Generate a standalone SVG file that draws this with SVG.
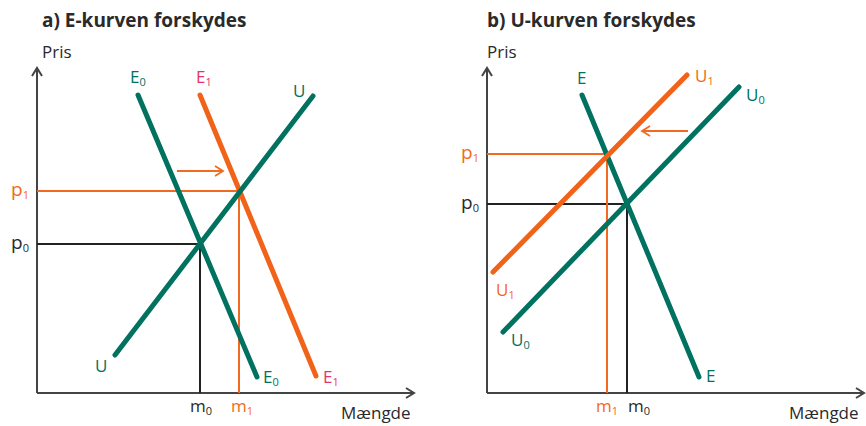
<svg xmlns="http://www.w3.org/2000/svg" width="866" height="426" viewBox="0 0 866 426">
<defs>
<style>
text{font-family:"Open Sans","Liberation Sans",sans-serif;font-size:17px}
.title{font-weight:bold;font-size:19px;fill:#2a2a2a}
.blk{fill:#2a2a2a}
.teal{fill:#00725f}
.org{fill:#f26a21}
.pink{fill:#e6336b}
.sub{font-size:11px}
.big{font-size:19px}
.curveT{stroke:#00725f;stroke-width:5;stroke-linecap:round;fill:none}
.curveO{stroke:#f2631a;stroke-width:5;stroke-linecap:round;fill:none}
.axis{stroke:#444;stroke-width:2;fill:none}
.gk{stroke:#222;stroke-width:2;fill:none}
.go{stroke:#f26a21;stroke-width:2;fill:none}
</style>
<marker id="ah" markerWidth="12" markerHeight="12" refX="10" refY="6" orient="auto" markerUnits="userSpaceOnUse">
<path d="M2,1 L10,6 L2,11" fill="none" stroke="#444" stroke-width="2"/>
</marker>
<marker id="aho" markerWidth="12" markerHeight="12" refX="10" refY="6" orient="auto" markerUnits="userSpaceOnUse">
<path d="M2,1 L10,6 L2,11" fill="none" stroke="#f26a21" stroke-width="1.8"/>
</marker>
</defs>
<rect width="866" height="426" fill="#fff"/>

<g id="panel-a">
<text class="title" x="42" y="27">a) E-kurven forskydes</text>
<text class="blk" x="42" y="58">Pris</text>
<g id="axes-a">
<line class="axis" x1="37" y1="393" x2="37" y2="68" marker-end="url(#ah)"/>
<line class="axis" x1="37" y1="393" x2="414" y2="393" marker-end="url(#ah)"/>
</g>
<g id="guides-a">
<polyline class="gk" points="37,244 200,244 200,393"/>
<polyline class="go" points="37,191 239,191 239,393"/>
</g>
<g id="E0-a"><line class="curveT" x1="138" y1="95" x2="257" y2="377"/>
<text class="teal" x="130" y="83">E<tspan class="sub" dy="3">0</tspan></text>
<text class="teal" x="263" y="383">E<tspan class="sub" dy="3">0</tspan></text></g>
<g id="E1-a"><line class="curveO" x1="200" y1="95" x2="316" y2="376"/>
<text class="pink" x="196" y="83">E<tspan class="sub" dy="3">1</tspan></text>
<text class="pink" x="323" y="383">E<tspan class="sub" dy="3">1</tspan></text></g>
<g id="U-a"><line class="curveT" x1="313" y1="96" x2="115" y2="355"/>
<text class="teal" x="293" y="97">U</text>
<text class="teal" x="95" y="372">U</text></g>
<g id="shift-a"><line x1="177" y1="171" x2="223" y2="171" stroke="#f26a21" stroke-width="1.8" marker-end="url(#aho)"/></g>
<text class="org big" x="11" y="196">p<tspan class="sub" dy="3">1</tspan></text>
<text class="blk big" x="11" y="249">p<tspan class="sub" dy="3">0</tspan></text>
<text class="blk" x="190" y="412">m<tspan class="sub" dy="3">0</tspan></text>
<text class="org" x="231" y="412">m<tspan class="sub" dy="3">1</tspan></text>
<text class="blk" x="341" y="419">Mængde</text>
</g>

<g id="panel-b">
<text class="title" x="487" y="27">b) U-kurven forskydes</text>
<text class="blk" x="487" y="58">Pris</text>
<g id="axes-b">
<line class="axis" x1="487" y1="393" x2="487" y2="68" marker-end="url(#ah)"/>
<line class="axis" x1="487" y1="393" x2="864" y2="393" marker-end="url(#ah)"/>
</g>
<g id="guides-b">
<polyline class="gk" points="487,204 627,204 627,393"/>
<polyline class="go" points="487,154 607,154 607,393"/>
</g>
<g id="E-b"><line class="curveT" x1="582" y1="95" x2="699" y2="377"/>
<text class="teal" x="577" y="84">E</text>
<text class="teal" x="706" y="382">E</text></g>
<g id="U1-b"><line class="curveO" x1="687" y1="75" x2="493" y2="272"/>
<text class="org" x="695" y="82">U<tspan class="sub" dy="3">1</tspan></text>
<text class="org" x="496" y="296">U<tspan class="sub" dy="3">1</tspan></text></g>
<g id="U0-b"><line class="curveT" x1="739" y1="87" x2="503" y2="332"/>
<text class="teal" x="746" y="101">U<tspan class="sub" dy="3">0</tspan></text>
<text class="teal" x="511" y="346">U<tspan class="sub" dy="3">0</tspan></text></g>
<g id="shift-b"><line x1="688" y1="131" x2="642" y2="131" stroke="#f26a21" stroke-width="1.8" marker-end="url(#aho)"/></g>
<text class="org big" x="461" y="159">p<tspan class="sub" dy="3">1</tspan></text>
<text class="blk big" x="461" y="209">p<tspan class="sub" dy="3">0</tspan></text>
<text class="org" x="596" y="412">m<tspan class="sub" dy="3">1</tspan></text>
<text class="blk" x="628" y="412">m<tspan class="sub" dy="3">0</tspan></text>
<text class="blk" x="789" y="419">Mængde</text>
</g>
</svg>
